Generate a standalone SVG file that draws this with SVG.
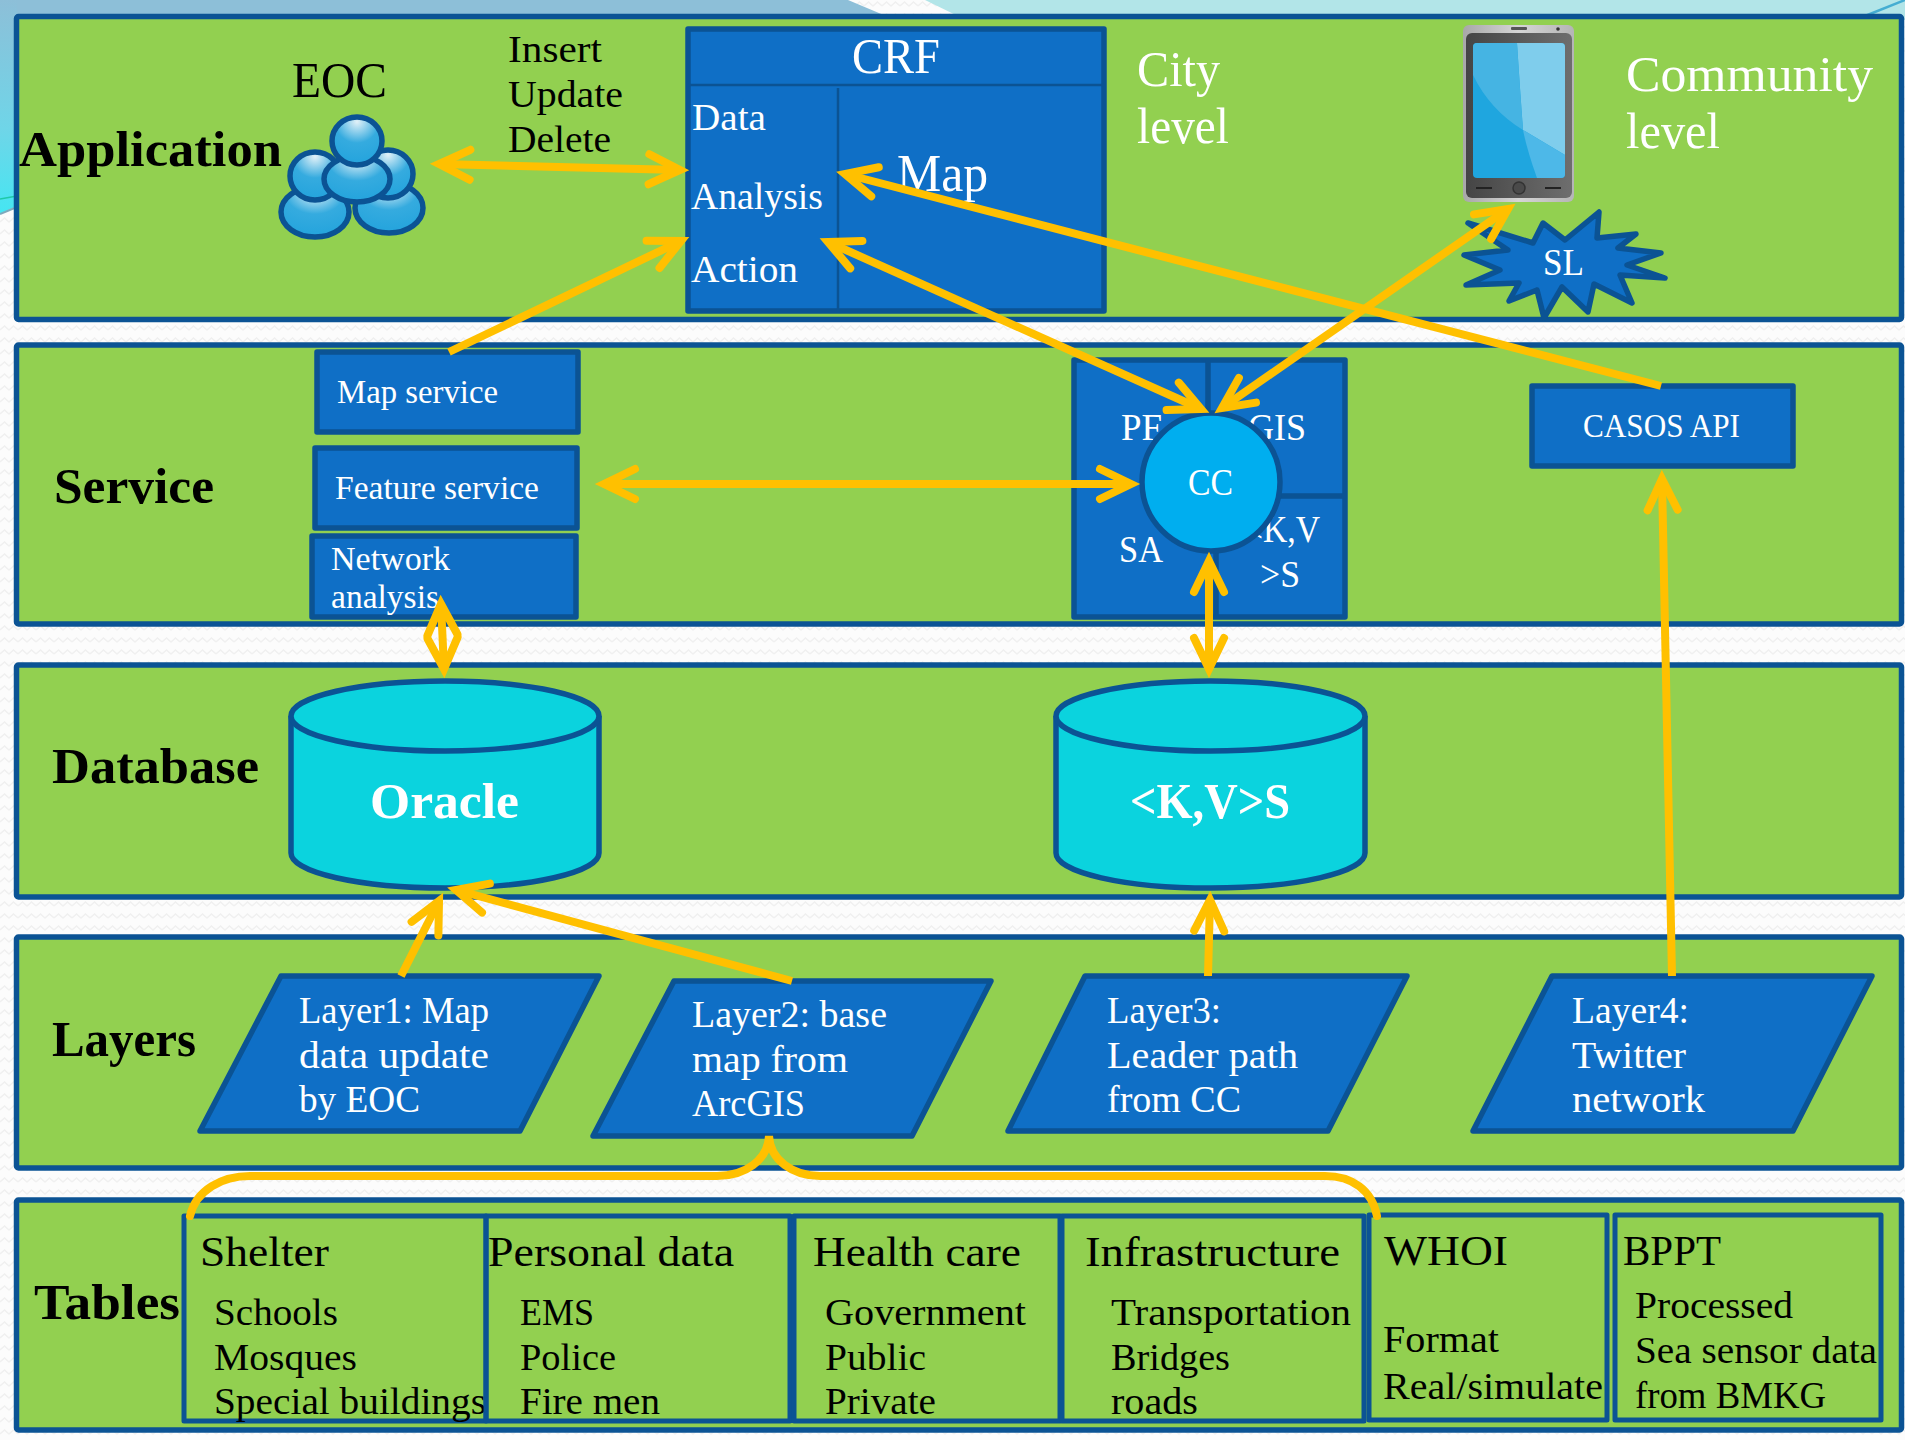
<svg xmlns="http://www.w3.org/2000/svg" width="1905" height="1440" viewBox="0 0 1905 1440">
<defs>
<style>
text{font-family:"Liberation Serif","Times New Roman",serif}
.w{fill:#fff}.k{fill:#000}
.h{font-weight:bold;font-size:50px;fill:#000}
.s50{font-size:50px}.s38{font-size:38px}.s42{font-size:42px}.s34{font-size:34px}
.band{fill:#92D050;stroke:#0B5394;stroke-width:5.5}
.box{fill:#0F6FC6;stroke:#0B5394;stroke-width:5.5;stroke-linejoin:round}
.div{fill:none;stroke:#0B5394;stroke-width:2.5}
.div2{fill:none;stroke:#0B5394;stroke-width:5.5}
.tb{fill:none;stroke:#0B5394;stroke-width:5;stroke-linejoin:round}
.cyl{fill:#0BD3DE;stroke:#0B5394;stroke-width:5.5}
.ar{fill:none;stroke:#FFC000;stroke-width:8}
.p{fill:url(#pg);stroke:#0B5394;stroke-width:5.5}
</style>
<marker id="a" viewBox="-40 -30 60 60" markerWidth="60" markerHeight="60" refX="0" refY="0" markerUnits="userSpaceOnUse" orient="auto-start-reverse" overflow="visible">
<path d="M-31,-15 L0,0 L-31,15" fill="none" stroke="#FFC000" stroke-width="8" stroke-linecap="round" stroke-linejoin="miter"/>
</marker>
<linearGradient id="lg" x1="0" y1="0" x2="0" y2="1"><stop offset="0" stop-color="#8DBFD8"/><stop offset="0.6" stop-color="#6FD5E8"/><stop offset="1" stop-color="#45E6F2"/></linearGradient>
<radialGradient id="pg" cx="0.5" cy="0.1" r="0.8"><stop offset="0" stop-color="#E2F1F8"/><stop offset="0.55" stop-color="#35ABDF"/><stop offset="1" stop-color="#27A5DD"/></radialGradient>
<linearGradient id="pb" x1="0" y1="0" x2="1" y2="0"><stop offset="0" stop-color="#A8A8A8"/><stop offset="0.5" stop-color="#D5D5D5"/><stop offset="1" stop-color="#B5B5B5"/></linearGradient>
<linearGradient id="pd" x1="0" y1="0" x2="1" y2="0"><stop offset="0" stop-color="#454545"/><stop offset="1" stop-color="#6E6E6E"/></linearGradient>
<pattern id="wv" width="18" height="12" patternUnits="userSpaceOnUse"><path d="M0,6 L4.500,2 L9,6 L13.500,2 L18,6" fill="none" stroke="#F0F0F0" stroke-width="1.500"/></pattern>
</defs>

<g id="background">
<rect width="1905" height="1440" fill="#FCFCFC"/>
<rect width="1905" height="1440" fill="url(#wv)"/>
<polygon points="0,0 848,0 886,16 886,20 0,20" fill="#8DBFD8"/>
<polygon points="925,0 1905,0 1905,20 966,20" fill="#B2E5E8"/>
<polygon points="0,0 17,0 17,206 0,214" fill="url(#lg)"/>
<path d="M0,199 L17,196" stroke="#1FC9A8" stroke-width="1.500" fill="none"/>
<path d="M0,214 L17,207" stroke="#7FA9BC" stroke-width="2" fill="none"/>
<path d="M1865,16 L1905,0" stroke="#45ADD2" stroke-width="2.500" fill="none"/>
</g>

<g id="bands">
<rect class="band" x="16.500" y="16.500" width="1885" height="303" rx="2"/>
<rect class="band" x="16.500" y="345" width="1885" height="279" rx="2"/>
<rect class="band" x="16.500" y="665" width="1885" height="232" rx="2"/>
<rect class="band" x="16.500" y="937" width="1885" height="231" rx="2"/>
<rect class="band" x="16.500" y="1200" width="1885" height="230" rx="2"/>
<text class="h" x="19" y="166" textLength="263" lengthAdjust="spacingAndGlyphs">Application</text>
<text class="h" x="54" y="503" textLength="160" lengthAdjust="spacingAndGlyphs">Service</text>
<text class="h" x="52" y="783" textLength="207" lengthAdjust="spacingAndGlyphs">Database</text>
<text class="h" x="52" y="1056" textLength="144" lengthAdjust="spacingAndGlyphs">Layers</text>
<text class="h" x="34" y="1319" textLength="146" lengthAdjust="spacingAndGlyphs">Tables</text>
</g>

<g id="eoc">
<text class="k s50" x="292" y="97" textLength="95" lengthAdjust="spacingAndGlyphs">EOC</text>
<ellipse class="p" cx="315" cy="212" rx="34" ry="25"/>
<ellipse class="p" cx="389" cy="208" rx="34" ry="25"/>
<ellipse class="p" cx="315" cy="176" rx="25" ry="24"/>
<ellipse class="p" cx="388" cy="174" rx="25" ry="24"/>
<ellipse class="p" cx="357" cy="179" rx="33" ry="23"/>
<ellipse class="p" cx="357" cy="141" rx="25" ry="24"/>
</g>

<g id="ops">
<text class="k s38" x="508" y="62" textLength="94" lengthAdjust="spacingAndGlyphs">Insert</text>
<text class="k s38" x="508" y="107" textLength="115" lengthAdjust="spacingAndGlyphs">Update</text>
<text class="k s38" x="508" y="152" textLength="103" lengthAdjust="spacingAndGlyphs">Delete</text>
</g>

<g id="crf">
<rect class="box" x="688" y="29" width="416" height="282"/>
<path class="div" d="M688,85 H1104 M838,88 V313"/>
<text class="w s50" x="852" y="73" textLength="88" lengthAdjust="spacingAndGlyphs">CRF</text>
<text class="w s38" x="692" y="130" textLength="74" lengthAdjust="spacingAndGlyphs">Data</text>
<text class="w s38" x="691" y="209" textLength="132" lengthAdjust="spacingAndGlyphs">Analysis</text>
<text class="w s38" x="691" y="282" textLength="107" lengthAdjust="spacingAndGlyphs">Action</text>
<text class="w" font-size="52" x="897" y="191" textLength="91" lengthAdjust="spacingAndGlyphs">Map</text>
</g>

<g id="levels">
<text class="w s50" x="1137" y="86" textLength="83" lengthAdjust="spacingAndGlyphs">City</text>
<text class="w s50" x="1137" y="143" textLength="92" lengthAdjust="spacingAndGlyphs">level</text>
<text class="w s50" x="1626" y="91" textLength="247" lengthAdjust="spacingAndGlyphs">Community</text>
<text class="w s50" x="1626" y="148" textLength="94" lengthAdjust="spacingAndGlyphs">level</text>
</g>

<g id="phone">
<rect x="1463" y="25" width="111" height="177" rx="6" fill="url(#pb)"/>
<rect x="1466" y="33" width="106" height="165" rx="6" fill="url(#pd)"/>
<rect x="1473" y="43" width="92" height="135" rx="4" fill="#1FA6DF"/>
<path d="M1517,43 H1561 Q1565,43 1565,47 V155 L1523,130 Q1520,90 1517,43 Z" fill="#7FCDEC"/>
<path d="M1523,130 L1565,155 V174 Q1565,178 1561,178 H1537 Q1527,150 1523,130 Z" fill="#4DB8E8"/>
<path d="M1473,47 Q1473,43 1477,43 H1517 Q1520,90 1523,130 Q1490,110 1473,75 Z" fill="#45B4E3"/>
<rect x="1511" y="27" width="16" height="3" rx="1" fill="#555"/>
<circle cx="1558" cy="29" r="1.800" fill="#333"/>
<circle cx="1519" cy="188" r="6" fill="#4A4A4A" stroke="#333" stroke-width="1.500"/>
<path d="M1476,188 H1492 M1545,188 H1561" stroke="#222" stroke-width="2"/>
</g>

<g id="sl">
<polygon points="1468,223 1533,243 1543,223 1565,240 1599,212 1597,238 1636,234 1618,248 1661,253 1627,265 1665,278 1620,275 1632,303 1594,284 1588,312 1562,287 1544,318 1537,290 1509,301 1519,283 1466,285 1500,270 1464,255 1508,250" fill="#0F6FC6" stroke="#0B5394" stroke-width="5.500" stroke-linejoin="round"/>
<text class="w s38" x="1543" y="275" textLength="41" lengthAdjust="spacingAndGlyphs">SL</text>
</g>

<g id="map-service"><rect class="box" x="317" y="352" width="261" height="80"/><text class="w s34" x="337" y="403" textLength="161" lengthAdjust="spacingAndGlyphs">Map service</text></g>
<g id="feature-service"><rect class="box" x="315" y="448" width="262" height="80"/><text class="w s34" x="335" y="499" textLength="204" lengthAdjust="spacingAndGlyphs">Feature service</text></g>
<g id="network-analysis"><rect class="box" x="312" y="536" width="264" height="81"/><text class="w s34" x="331" y="570" textLength="119" lengthAdjust="spacingAndGlyphs">Network</text><text class="w s34" x="331" y="608" textLength="108" lengthAdjust="spacingAndGlyphs">analysis</text></g>
<g id="casos-api"><rect class="box" x="1532" y="386" width="261" height="80"/><text class="w s34" x="1583" y="437" textLength="157" lengthAdjust="spacingAndGlyphs">CASOS API</text></g>

<g id="cc-block">
<rect class="box" x="1074" y="360" width="271" height="257"/>
<path class="div2" d="M1208,360 V420 M1250,496 H1345 M1216,540 V617"/>
<text class="w s38" x="1121" y="440" textLength="41" lengthAdjust="spacingAndGlyphs">PF</text>
<text class="w s38" x="1248" y="440" textLength="58" lengthAdjust="spacingAndGlyphs">GIS</text>
<text class="w s38" x="1119" y="562" textLength="44" lengthAdjust="spacingAndGlyphs">SA</text>
<text class="w s38" x="1244" y="542" textLength="76" lengthAdjust="spacingAndGlyphs">&lt;K,V</text>
<text class="w s38" x="1260" y="587" textLength="40" lengthAdjust="spacingAndGlyphs">&gt;S</text>
</g>
<g id="cc">
<circle cx="1211" cy="482" r="69" fill="#00AEEF" stroke="#0B5394" stroke-width="5.500"/>
<text class="w s38" x="1188" y="495" textLength="45" lengthAdjust="spacingAndGlyphs">CC</text>
</g>

<g id="oracle">
<path class="cyl" d="M291,716 V853 A154,35 0 0 0 599,853 V716"/>
<ellipse class="cyl" cx="445" cy="716" rx="154" ry="35"/>
<text class="w" font-weight="bold" font-size="50" x="370" y="818" textLength="149" lengthAdjust="spacingAndGlyphs">Oracle</text>
</g>
<g id="kvs">
<path class="cyl" d="M1056,716 V853 A154,35 0 0 0 1365,853 V716"/>
<ellipse class="cyl" cx="1210.500" cy="716" rx="154.500" ry="35"/>
<text class="w" font-weight="bold" font-size="50" x="1130" y="818" textLength="160" lengthAdjust="spacingAndGlyphs">&lt;K,V&gt;S</text>
</g>

<g id="layer1">
<polygon class="box" points="281,976 599,976 520,1131 200,1131"/>
<text class="w s38" x="299" y="1023" textLength="190" lengthAdjust="spacingAndGlyphs">Layer1: Map</text>
<text class="w s38" x="299" y="1068" textLength="190" lengthAdjust="spacingAndGlyphs">data update</text>
<text class="w s38" x="299" y="1112" textLength="121" lengthAdjust="spacingAndGlyphs">by EOC</text>
</g>
<g id="layer2">
<polygon class="box" points="674,981 991,981 912,1136 593,1136"/>
<text class="w s38" x="692" y="1027" textLength="195" lengthAdjust="spacingAndGlyphs">Layer2: base</text>
<text class="w s38" x="692" y="1072" textLength="156" lengthAdjust="spacingAndGlyphs">map from</text>
<text class="w s38" x="692" y="1116" textLength="113" lengthAdjust="spacingAndGlyphs">ArcGIS</text>
</g>
<g id="layer3">
<polygon class="box" points="1085,976 1407,976 1328,1131 1008,1131"/>
<text class="w s38" x="1107" y="1023" textLength="114" lengthAdjust="spacingAndGlyphs">Layer3:</text>
<text class="w s38" x="1107" y="1068" textLength="191" lengthAdjust="spacingAndGlyphs">Leader path</text>
<text class="w s38" x="1107" y="1112" textLength="134" lengthAdjust="spacingAndGlyphs">from CC</text>
</g>
<g id="layer4">
<polygon class="box" points="1552,976 1872,976 1793,1131 1473,1131"/>
<text class="w s38" x="1572" y="1023" textLength="117" lengthAdjust="spacingAndGlyphs">Layer4:</text>
<text class="w s38" x="1572" y="1068" textLength="114" lengthAdjust="spacingAndGlyphs">Twitter</text>
<text class="w s38" x="1572" y="1112" textLength="133" lengthAdjust="spacingAndGlyphs">network</text>
</g>

<g id="table-shelter">
<rect class="tb" x="184" y="1216" width="302" height="205"/>
<text class="k s42" x="200" y="1266" textLength="129" lengthAdjust="spacingAndGlyphs">Shelter</text>
<text class="k s38" x="214" y="1325" textLength="124" lengthAdjust="spacingAndGlyphs">Schools</text>
<text class="k s38" x="214" y="1370" textLength="143" lengthAdjust="spacingAndGlyphs">Mosques</text>
<text class="k s38" x="214" y="1414" textLength="272" lengthAdjust="spacingAndGlyphs">Special buildings</text>
</g>
<g id="table-personal">
<rect class="tb" x="486" y="1216" width="304" height="205"/>
<text class="k s42" x="488" y="1266" textLength="246" lengthAdjust="spacingAndGlyphs">Personal data</text>
<text class="k s38" x="520" y="1325" textLength="74" lengthAdjust="spacingAndGlyphs">EMS</text>
<text class="k s38" x="520" y="1370" textLength="96" lengthAdjust="spacingAndGlyphs">Police</text>
<text class="k s38" x="520" y="1414" textLength="140" lengthAdjust="spacingAndGlyphs">Fire men</text>
</g>
<g id="table-health">
<rect class="tb" x="794" y="1216" width="266" height="205"/>
<text class="k s42" x="813" y="1266" textLength="208" lengthAdjust="spacingAndGlyphs">Health care</text>
<text class="k s38" x="825" y="1325" textLength="201" lengthAdjust="spacingAndGlyphs">Government</text>
<text class="k s38" x="825" y="1370" textLength="101" lengthAdjust="spacingAndGlyphs">Public</text>
<text class="k s38" x="825" y="1414" textLength="111" lengthAdjust="spacingAndGlyphs">Private</text>
</g>
<g id="table-infra">
<rect class="tb" x="1062" y="1216" width="302" height="205"/>
<text class="k s42" x="1085" y="1266" textLength="255" lengthAdjust="spacingAndGlyphs">Infrastructure</text>
<text class="k s38" x="1111" y="1325" textLength="240" lengthAdjust="spacingAndGlyphs">Transportation</text>
<text class="k s38" x="1111" y="1370" textLength="119" lengthAdjust="spacingAndGlyphs">Bridges</text>
<text class="k s38" x="1111" y="1414" textLength="87" lengthAdjust="spacingAndGlyphs">roads</text>
</g>
<g id="table-whoi">
<rect class="tb" x="1369" y="1215" width="238" height="205"/>
<text class="k s42" x="1384" y="1265" textLength="124" lengthAdjust="spacingAndGlyphs">WHOI</text>
<text class="k s38" x="1383" y="1352" textLength="116" lengthAdjust="spacingAndGlyphs">Format</text>
<text class="k s38" x="1383" y="1399" textLength="220" lengthAdjust="spacingAndGlyphs">Real/simulate</text>
</g>
<g id="table-bppt">
<rect class="tb" x="1615" y="1215" width="266" height="205"/>
<text class="k s42" x="1623" y="1265" textLength="98" lengthAdjust="spacingAndGlyphs">BPPT</text>
<text class="k s38" x="1635" y="1318" textLength="158" lengthAdjust="spacingAndGlyphs">Processed</text>
<text class="k s38" x="1635" y="1363" textLength="242" lengthAdjust="spacingAndGlyphs">Sea sensor data</text>
<text class="k s38" x="1635" y="1408" textLength="191" lengthAdjust="spacingAndGlyphs">from BMKG</text>
</g>

<g id="connectors">
<line class="ar" x1="439" y1="164" x2="680" y2="170" marker-start="url(#a)" marker-end="url(#a)"/>
<line class="ar" x1="449" y1="352" x2="681" y2="241" marker-end="url(#a)"/>
<line class="ar" x1="828" y1="242" x2="1201" y2="409" marker-start="url(#a)" marker-end="url(#a)"/>
<line class="ar" x1="1222" y1="408" x2="1508" y2="209" marker-start="url(#a)" marker-end="url(#a)"/>
<line class="ar" x1="1661" y1="386" x2="845" y2="174" marker-end="url(#a)"/>
<line class="ar" x1="604" y1="484" x2="1131" y2="484" marker-start="url(#a)" marker-end="url(#a)"/>
<line class="ar" x1="441" y1="604" x2="444" y2="669" marker-start="url(#a)" marker-end="url(#a)"/>
<line class="ar" x1="1209" y1="561" x2="1209" y2="669" marker-start="url(#a)" marker-end="url(#a)"/>
<line class="ar" x1="401" y1="976" x2="439" y2="901" marker-end="url(#a)"/>
<line class="ar" x1="792" y1="981" x2="456" y2="890" marker-end="url(#a)"/>
<line class="ar" x1="1208" y1="976" x2="1210" y2="900" marker-end="url(#a)"/>
<line class="ar" x1="1672" y1="976" x2="1662" y2="479" marker-end="url(#a)"/>
<path class="ar" d="M190,1216 C196,1190 222,1176 250,1176 H717 C745,1176 768,1160 769,1136 C770,1160 793,1176 820,1176 H1325 C1352,1176 1372,1190 1377,1216" stroke-linecap="round"/>
</g>
</svg>
